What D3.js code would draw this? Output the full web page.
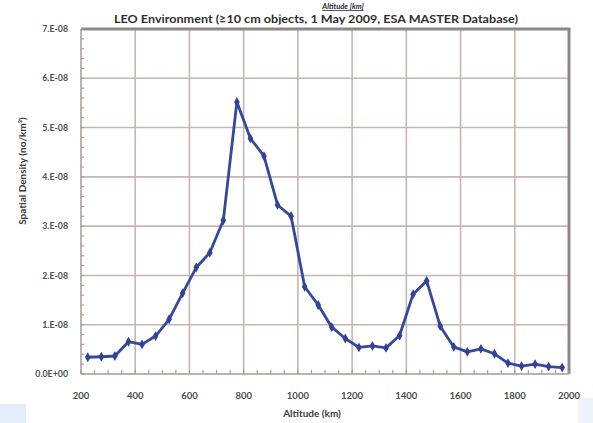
<!DOCTYPE html>
<html>
<head>
<meta charset="utf-8">
<script src="https://cdn.jsdelivr.net/npm/d3@7"></script>
<style>
  html, body { margin: 0; padding: 0; background: #ffffff; }
  svg { display: block; }
  text { font-family: Lato, "Open Sans", "DejaVu Sans", sans-serif; font-weight: bold; }
</style>
</head>
<body>
<svg id="chart" width="593" height="423"></svg>
<script>
// Altitude bins (km) and spatial density (objects per km^3)
const altitudes = [225, 275, 325, 375, 425, 475, 525, 575, 625, 675, 725, 775,
                   825, 875, 925, 975, 1025, 1075, 1125, 1175, 1225, 1275, 1325, 1375,
                   1425, 1475, 1525, 1575, 1625, 1675, 1725, 1775, 1825, 1875, 1925, 1975];
const density = [0.34e-8, 0.35e-8, 0.365e-8, 0.655e-8, 0.60e-8, 0.77e-8, 1.11e-8, 1.64e-8,
                 2.16e-8, 2.46e-8, 3.12e-8, 5.52e-8, 4.78e-8, 4.42e-8, 3.43e-8, 3.20e-8,
                 1.77e-8, 1.40e-8, 0.95e-8, 0.72e-8, 0.54e-8, 0.57e-8, 0.53e-8, 0.78e-8,
                 1.62e-8, 1.89e-8, 0.97e-8, 0.55e-8, 0.45e-8, 0.51e-8, 0.41e-8, 0.22e-8,
                 0.16e-8, 0.20e-8, 0.15e-8, 0.13e-8];
const xTicks = [200, 400, 600, 800, 1000, 1200, 1400, 1600, 1800, 2000];
const yTicks = [0, 1e-8, 2e-8, 3e-8, 4e-8, 5e-8, 6e-8, 7e-8];
const yTickLabels = ["0.0E+00", "1.E-08", "2.E-08", "3.E-08", "4.E-08", "5.E-08", "6.E-08", "7.E-08"];
const xMinor = d3.range(200, 2001, 50);
const yMinor = d3.range(0, 7.0001e-8, 0.2e-8);

const svg = d3.select("#chart");
const plotL = 81, plotR = 569, plotT = 29, plotB = 374;

const x = d3.scaleLinear().domain([200, 2000]).range([plotL, plotR]);
const y = d3.scaleLinear().domain([0, 7e-8]).range([plotB, plotT]);

// faint bluish strips along the lower edge
svg.append("rect").attr("x", 0).attr("y", 404).attr("width", 26).attr("height", 19).attr("fill", "#e3ecf8");
svg.append("rect").attr("x", 578).attr("y", 398).attr("width", 15).attr("height", 25).attr("fill", "#eef3fa");

// gridlines
svg.append("g")
  .selectAll("line").data(yTicks.slice(1, -1)).join("line")
  .attr("x1", plotL).attr("x2", plotR)
  .attr("y1", d => y(d)).attr("y2", d => y(d))
  .attr("stroke", "#c4b7b3").attr("stroke-width", 1.6);
svg.append("g")
  .selectAll("line").data(xTicks.slice(1, -1)).join("line")
  .attr("x1", d => x(d)).attr("x2", d => x(d))
  .attr("y1", plotT).attr("y2", plotB)
  .attr("stroke", "#c4b7b3").attr("stroke-width", 1.6);

// frame: heavy top and right edges, lighter axis lines
svg.append("line").attr("x1", plotL).attr("x2", plotR + 1.5).attr("y1", plotT).attr("y2", plotT)
  .attr("stroke", "#8f8785").attr("stroke-width", 3);
svg.append("line").attr("x1", plotR).attr("x2", plotR).attr("y1", plotT).attr("y2", plotB)
  .attr("stroke", "#8f8785").attr("stroke-width", 3);
svg.append("line").attr("x1", plotL).attr("x2", plotL).attr("y1", plotT).attr("y2", plotB)
  .attr("stroke", "#a59c99").attr("stroke-width", 1.5);
svg.append("line").attr("x1", plotL).attr("x2", plotR).attr("y1", plotB).attr("y2", plotB)
  .attr("stroke", "#a59c99").attr("stroke-width", 1.5);

// minor ticks inside the axes
svg.append("g").selectAll("line").data(xMinor).join("line")
  .attr("x1", d => x(d)).attr("x2", d => x(d))
  .attr("y1", plotB).attr("y2", plotB - 4)
  .attr("stroke", "#a59c99").attr("stroke-width", 1.2);
svg.append("g").selectAll("line").data(yMinor).join("line")
  .attr("x1", plotL).attr("x2", plotL + 3)
  .attr("y1", d => y(d)).attr("y2", d => y(d))
  .attr("stroke", "#a59c99").attr("stroke-width", 1.2);

// tick labels
svg.append("g").selectAll("text").data(yTicks).join("text")
  .attr("x", 68).attr("y", d => y(d) + 3.2)
  .attr("text-anchor", "end").attr("font-size", 8.8).attr("fill", "#505050")
  .text((d, i) => yTickLabels[i]);
svg.append("g").selectAll("text").data(xTicks).join("text")
  .attr("x", d => x(d)).attr("y", 399)
  .attr("text-anchor", "middle").attr("font-size", 9.5).attr("fill", "#4a4a4a")
  .text(d => d);

// axis titles
svg.append("text").attr("x", 312).attr("y", 417)
  .attr("text-anchor", "middle").attr("font-size", 10).attr("fill", "#3a3a3a")
  .text("Altitude (km)");
svg.append("text").attr("transform", "translate(26,171) rotate(-90)")
  .attr("text-anchor", "middle").attr("font-size", 10).attr("fill", "#3a3a3a")
  .text("Spatial Density (no/km³)");

// chart title, top edge cut off
svg.append("defs").append("clipPath").attr("id", "titleClip")
  .append("rect").attr("x", 0).attr("y", 14.5).attr("width", 593).attr("height", 10);
svg.append("text").attr("x", 316).attr("y", 22.5).attr("clip-path", "url(#titleClip)")
  .attr("text-anchor", "middle").attr("font-size", 10.5).attr("fill", "#2f2f2f")
  .attr("textLength", 404).attr("lengthAdjust", "spacingAndGlyphs")
  .text("LEO Environment (≥10 cm objects, 1 May 2009, ESA MASTER Database)");
svg.append("text").attr("x", 343).attr("y", 9)
  .attr("text-anchor", "middle").attr("font-size", 7.5).attr("fill", "#1f1f30")
  .attr("font-style", "italic").attr("text-decoration", "underline")
  .text("Altitude [km]");

// density curve
const pts = altitudes.map((a, i) => [a, density[i]]);
const line = d3.line().x(d => x(d[0])).y(d => y(d[1]));
svg.append("path").datum(pts).attr("d", line)
  .attr("fill", "none").attr("stroke", "#34489c").attr("stroke-width", 2.8)
  .attr("stroke-linejoin", "round");
svg.append("g").selectAll("path").data(pts).join("path")
  .attr("transform", d => `translate(${x(d[0])},${y(d[1])})`)
  .attr("d", d3.symbol(d3.symbolDiamond, 28))
  .attr("fill", "#2f4397");
</script>
</body>
</html>
